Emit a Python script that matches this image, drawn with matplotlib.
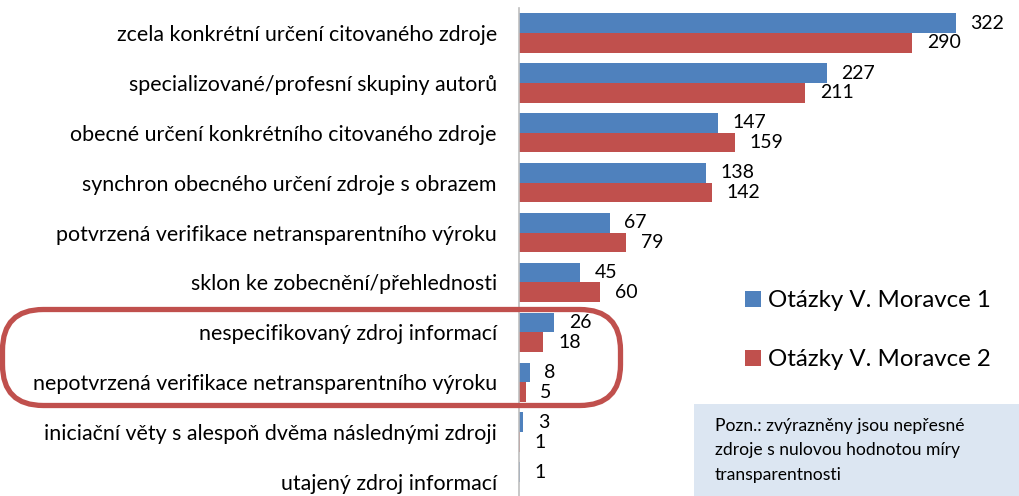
import matplotlib.pyplot as plt
from matplotlib.patches import FancyBboxPatch, Rectangle

plt.rcParams['font.family'] = ['Lato', 'DejaVu Sans']

categories = [
    'zcela konkrétní určení citovaného zdroje',
    'specializované/profesní skupiny autorů',
    'obecné určení konkrétního citovaného zdroje',
    'synchron obecného určení zdroje s obrazem',
    'potvrzená verifikace netransparentního výroku',
    'sklon ke zobecnění/přehlednosti',
    'nespecifikovaný zdroj informací',
    'nepotvrzená verifikace netransparentního výroku',
    'iniciační věty s alespoň dvěma následnými zdroji',
    'utajený zdroj informací',
]
series1 = [322, 227, 147, 138, 67, 45, 26, 8, 3, 1]
series2 = [290, 211, 159, 142, 79, 60, 18, 5, 1, None]
labels = ['Otázky V. Moravce 1', 'Otázky V. Moravce 2']
note = 'Pozn.: zvýrazněny jsou nepřesné\nzdroje s nulovou hodnotou míry\ntransparentnosti'

BLUE = '#4F81BD'
RED = '#C0504D'

W, H = 1020, 496
fig = plt.figure(figsize=(W / 100, H / 100), dpi=100)

# axes placed in pixel terms: x origin at 519 px, 1.356 px per unit
x0, k = 519, 1.356
xmax = 350
top_px, bot_px = 8, 33 + 9.5 * 49.9
ax = fig.add_axes([x0 / W, 1 - bot_px / H, xmax * k / W, (bot_px - top_px) / H])

n = len(categories)
h = 0.395
ys = list(range(n))
b1 = ax.barh([y - h / 2 for y in ys], series1, height=h, color=BLUE, label=labels[0])
v2 = [v if v is not None else 0 for v in series2]
b2 = ax.barh([y + h / 2 for y in ys], v2, height=h, color=RED, label=labels[1])

for y, v in zip(ys, series1):
    ax.annotate(str(v), (v, y - h / 2), xytext=(10.5, 0), textcoords='offset points',
                ha='left', va='center', fontsize=14)
for y, v in zip(ys, series2):
    if v is None:
        continue
    ax.annotate(str(v), (v, y + h / 2), xytext=(10.5, 0), textcoords='offset points',
                ha='left', va='center', fontsize=14)

ax.set_xlim(0, xmax)
ax.set_ylim(n - 0.5, -0.5)
ax.set_yticks(ys)
ax.set_yticklabels(categories, fontsize=15.4)
ax.tick_params(axis='y', length=0, pad=16)
ax.set_xticks([])
for s in ['top', 'right', 'bottom']:
    ax.spines[s].set_visible(False)
ax.spines['left'].set_color('#BFBFBF')
ax.spines['left'].set_linewidth(1.2)

# legend
fig.legend([b1, b2], labels, loc='upper left', bbox_to_anchor=(733 / W, 1 - 278 / H),
           frameon=False, fontsize=17.3, handlelength=0.65, handleheight=0.65,
           handletextpad=0.3, labelspacing=1.6, borderpad=0)

# note box
fig.patches.append(Rectangle((694 / W, 0), 1 - 694 / W, (H - 404) / H,
                             transform=fig.transFigure, facecolor='#DCE6F2',
                             edgecolor='none', zorder=0))
fig.text(715 / W, 1 - 418 / H, note, ha='left', va='top', fontsize=12.6,
         linespacing=1.65)

# highlight frame
fig.patches.append(FancyBboxPatch((2.5 / W, 1 - 405.5 / H), 618 / W, 96 / H,
                                  boxstyle='round,pad=0,rounding_size=0.04',
                                  transform=fig.transFigure, fill=False,
                                  edgecolor=RED, linewidth=3.8, zorder=5,
                                  mutation_aspect=W / H))

fig.savefig('out.png', dpi=100)
